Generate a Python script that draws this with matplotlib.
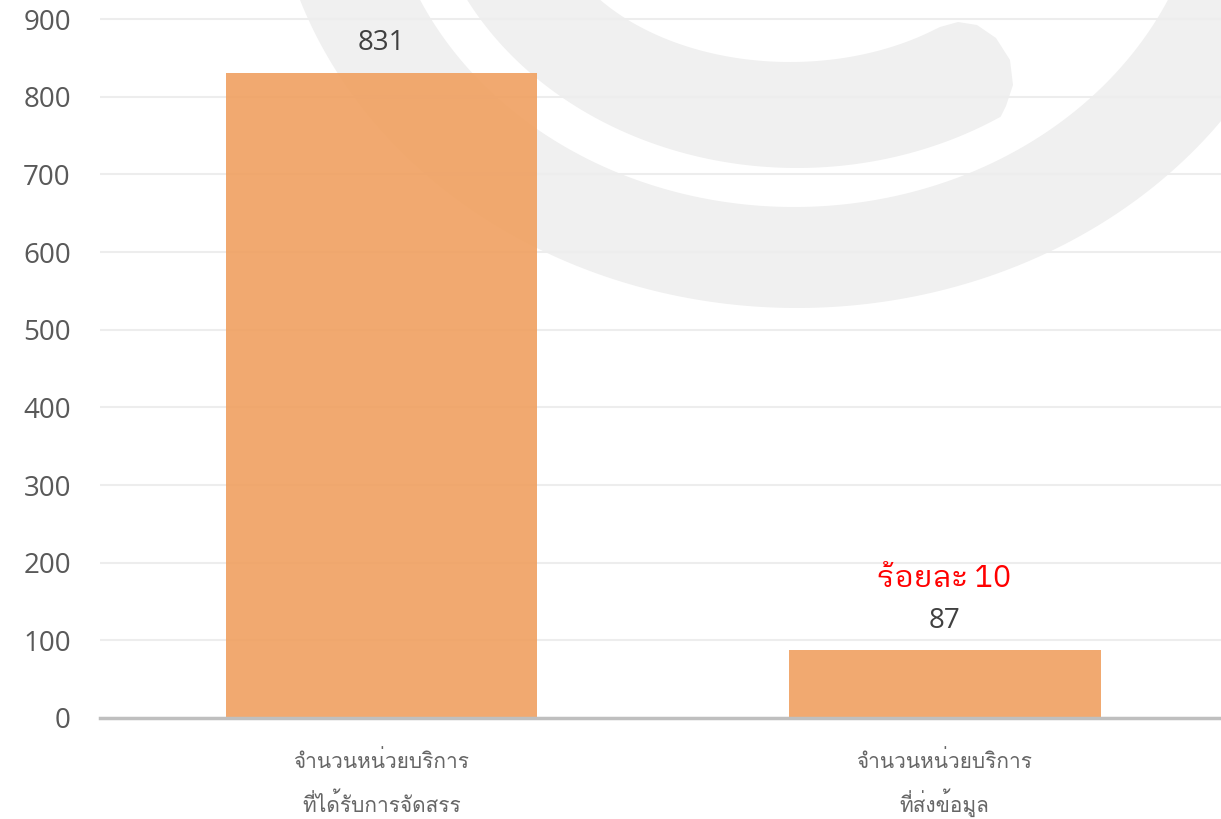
import matplotlib
matplotlib.use("Agg")
import matplotlib.pyplot as plt
import numpy as np
from matplotlib.patches import Polygon

categories = ["จำนวนหน่วยบริการ\nที่ได้รับการจัดสรร", "จำนวนหน่วยบริการ\nที่ส่งข้อมูล"]
values = [831, 87]
yticks = [0, 100, 200, 300, 400, 500, 600, 700, 800, 900]

num_font = ["Open Sans", "Noto Sans Thai Looped"]
thai_font = ["Loma", "Noto Sans Thai Looped"]

fig = plt.figure(figsize=(12.21, 8.19), dpi=100)

# light grey watermark behind the chart (pixel coordinates)
bg = fig.add_axes([0, 0, 1, 1], zorder=0)
bg.set_xlim(0, 1221)
bg.set_ylim(819, 0)
bg.axis("off")


def half_ellipse(cx, cy, a, b, t0, t1, n=200):
    t = np.radians(np.linspace(t0, t1, n))
    return np.column_stack([cx + a * np.cos(t), cy + b * np.sin(t)])


outer = half_ellipse(797, -150, 526, 458, 0, 180)
inner = half_ellipse(794, -150, 412, 357, 180, 0)
bg.add_patch(Polygon(np.vstack([outer, inner]), closed=True, fc="#f0f0f0", ec="none"))

low = half_ellipse(797, -150, 374, 318, 160, 57)
hook = np.array([[1006, 106], [1013, 85], [1010, 60], [996, 38], [977, 25], [958, 22], [940, 27]])
top = half_ellipse(790, -100, 241, 162, 55, 150)
bg.add_patch(Polygon(np.vstack([low, hook, top]), closed=True, fc="#f0f0f0", ec="none"))

ax = fig.add_axes([100 / 1221, 101 / 819, 1121 / 1221, 718 / 819], zorder=1)
ax.patch.set_alpha(0)

x = np.arange(len(categories))
ax.bar(x, values, width=0.554, color="#f0a060", alpha=0.9, zorder=3)

for xi, v in zip(x, values):
    ax.annotate(str(v), (xi, v), xytext=(0, 21.5), textcoords="offset points",
                ha="center", va="center", fontsize=20, color="#404040", family=num_font)

pct = round(values[1] / values[0] * 100)
ax.annotate("ร้อยละ " + str(pct), (x[1], values[1]), xytext=(0, 52), textcoords="offset points",
            ha="center", va="center", fontsize=22, color="#ff0000",
            family=["IBM Plex Sans Thai Looped", "Open Sans"])

# category labels, one line at a time so both rows line up
for xi, label in zip(x, categories):
    for k, line in enumerate(label.split("\n")):
        ax.annotate(line, (xi, 0), xycoords=("data", "axes fraction"),
                    xytext=(0, -36 - 31.7 * k), textcoords="offset points",
                    ha="center", va="baseline", fontsize=15, color="#666666", family=thai_font)

ax.set_xlim(-0.5, 1.491)
ax.set_ylim(0, 924.5)
ax.set_yticks(yticks)
ax.set_yticklabels([str(t) for t in yticks], fontsize=20, color="#595959", family=num_font)
ax.set_xticks(x)
ax.set_xticklabels([])
ax.tick_params(axis="both", length=0)
ax.tick_params(axis="y", pad=21)

ax.grid(axis="y", color="#ededed", linewidth=1.5, zorder=0)
ax.set_axisbelow(True)
for s in ["top", "right", "left"]:
    ax.spines[s].set_visible(False)
ax.spines["bottom"].set_color("#bfbfbf")
ax.spines["bottom"].set_linewidth(2.5)
ax.spines["bottom"].set_zorder(4)

fig.savefig("out.png", dpi=100)
